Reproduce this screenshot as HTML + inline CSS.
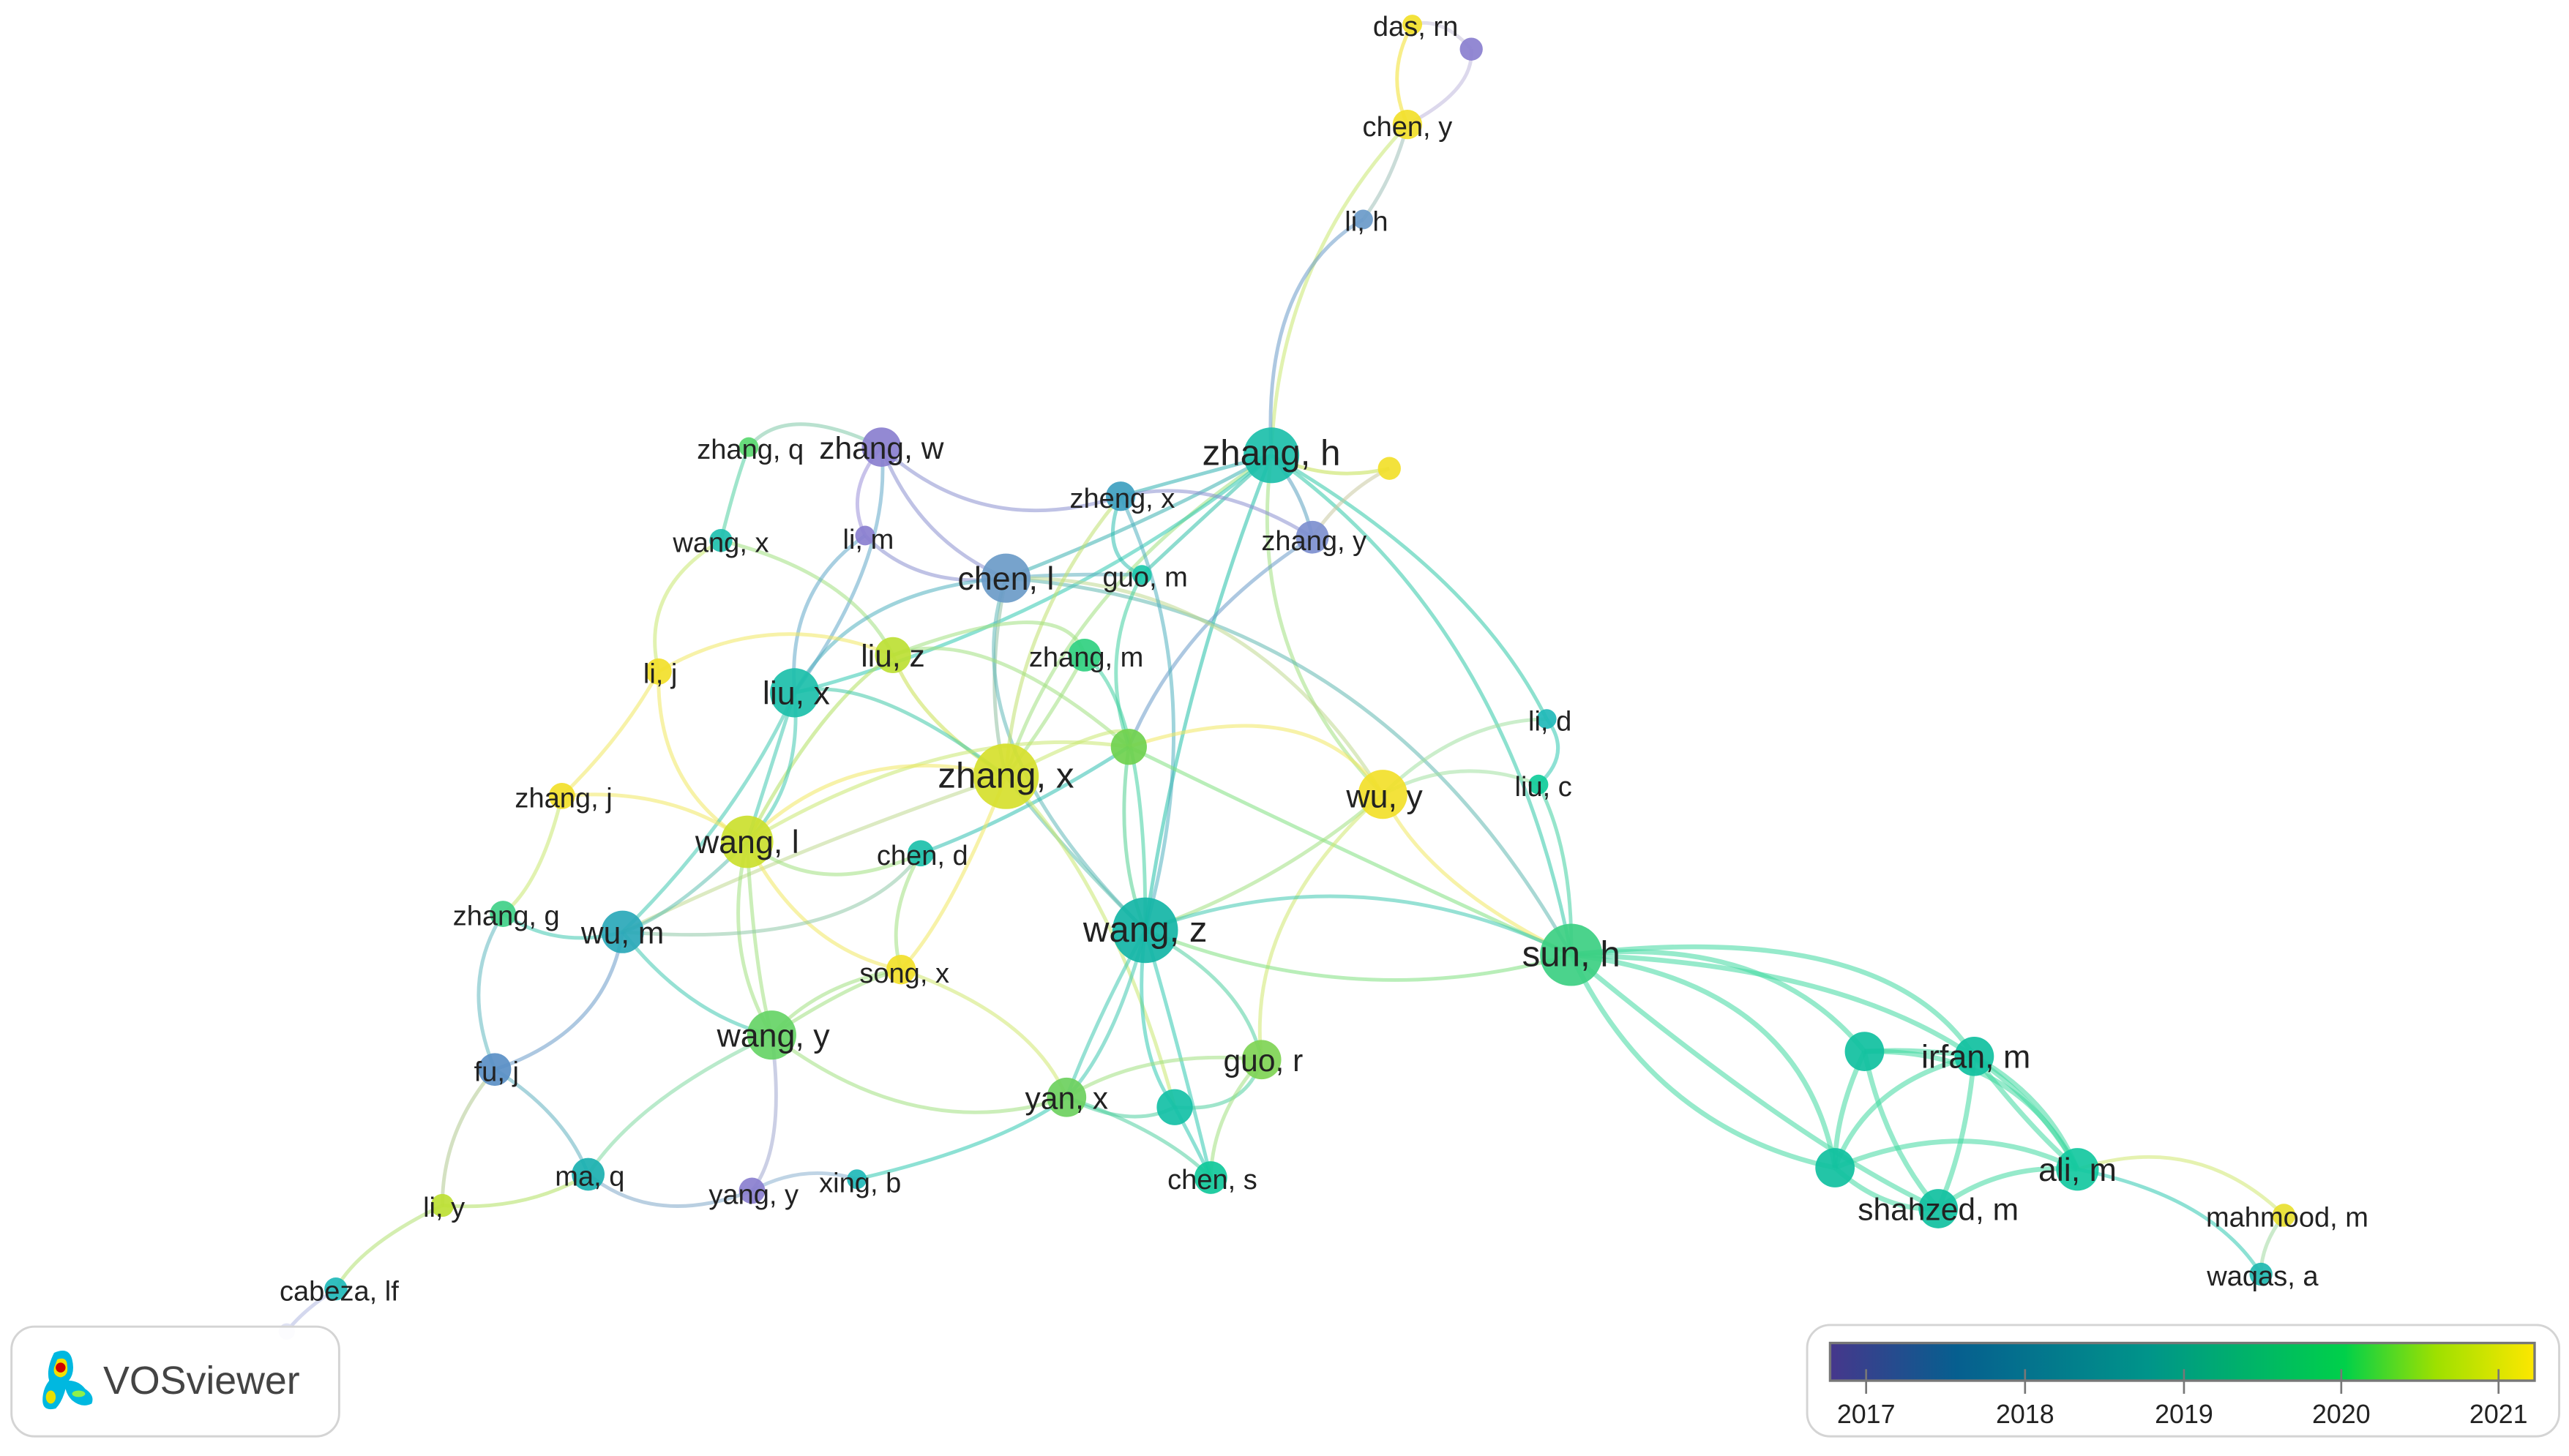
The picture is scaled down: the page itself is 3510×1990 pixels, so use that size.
<!DOCTYPE html>
<html><head><meta charset="utf-8"><style>
html,body{margin:0;padding:0;background:#fff;}
svg{display:block;}
text{font-family:"Liberation Sans",sans-serif;fill:#222;}
</style></head><body>
<svg width="3510" height="1990" viewBox="0 0 1568 889" preserveAspectRatio="none" xmlns="http://www.w3.org/2000/svg">
<defs>
<linearGradient id="bar" x1="0" x2="1" y1="0" y2="0">
<stop offset="0" stop-color="#46378c"/><stop offset="0.18" stop-color="#065f8f"/><stop offset="0.45" stop-color="#00948a"/><stop offset="0.73" stop-color="#00d04a"/><stop offset="0.86" stop-color="#9ee000"/><stop offset="1" stop-color="#fde700"/>
</linearGradient>
</defs>
<g fill="none" stroke-width="2.2" stroke-opacity="0.55">
<!-- top -->
<path d="M862 15 Q880 10 898 30" stroke="#c9c2d8"/>
<path d="M862 15 Q845 45 859 76" stroke="#f2e02a"/>
<path d="M859 76 Q900 55 898 30" stroke="#c0b8dc"/>
<path d="M859 76 Q850 110 832 134" stroke="#9fc0b8"/>
<path d="M859 76 Q780 160 776 278" stroke="#c8e870"/>
<path d="M832 134 Q770 170 776 278" stroke="#6a9ac9"/>
<!-- zhang h -->
<path d="M776 278 Q810 295 848 286" stroke="#c2e050"/>
<path d="M776 278 Q730 290 684 303" stroke="#30b0b0"/>
<path d="M776 278 Q795 300 801 328" stroke="#5aa0c0"/>
<path d="M776 278 Q700 320 614 353" stroke="#3ab0b0"/>
<path d="M776 278 Q730 320 697 351" stroke="#30c0a8"/>
<path d="M776 278 Q720 420 699 568" stroke="#20c0a8"/>
<path d="M776 278 Q650 360 614 474" stroke="#a0e080"/>
<path d="M776 278 Q760 400 844 485" stroke="#a0e080"/>
<path d="M776 278 Q900 350 944 439" stroke="#30c8a8"/>
<path d="M776 278 Q920 380 959 583" stroke="#30c8a8"/>
<path d="M776 278 Q650 380 485 423" stroke="#30c8b0"/>
<path d="M801 328 Q820 300 848 286" stroke="#c8c8a0"/>
<path d="M801 328 Q720 380 689 456" stroke="#6a9ac9"/>
<!-- zhang w -->
<path d="M538 273 Q600 330 684 303 Q740 290 801 328" stroke="#8a90d0"/>
<path d="M538 273 Q515 300 528 327" stroke="#9a8fd8"/>
<path d="M538 273 Q560 330 614 353" stroke="#8a8fd0"/>
<path d="M538 273 Q545 340 485 423" stroke="#60a8c8"/>
<path d="M538 273 Q480 245 457 273" stroke="#80c8a8"/>
<path d="M457 273 Q450 290 440 330" stroke="#50d0a0"/>
<path d="M440 330 Q390 360 402 410" stroke="#c8e870"/>
<path d="M440 330 Q520 350 545 400" stroke="#a0e080"/>
<path d="M528 327 Q480 360 485 423" stroke="#60a8c8"/>
<path d="M528 327 Q560 360 614 353" stroke="#8a8fd0"/>
<!-- chen l -->
<path d="M614 353 Q650 350 697 351" stroke="#60b0c0"/>
<path d="M614 353 Q840 370 959 583" stroke="#60b8b0"/>
<path d="M614 353 Q760 350 844 485" stroke="#c0d890"/>
<path d="M614 353 Q600 420 614 474" stroke="#90c0a0"/>
<path d="M614 353 Q580 450 699 568" stroke="#60b8b8"/>
<path d="M614 353 Q520 360 485 423" stroke="#50b0c0"/>
<path d="M684 303 Q670 340 697 351" stroke="#30c0b0"/>
<path d="M684 303 Q740 420 699 568" stroke="#50b0c0"/>
<path d="M684 303 Q620 380 614 474" stroke="#c0e070"/>
<path d="M697 351 Q670 400 689 456" stroke="#40d0a0"/>
<!-- mid -->
<path d="M402 410 Q470 370 545 400" stroke="#f0e860"/>
<path d="M402 410 Q380 450 343 486" stroke="#f0e860"/>
<path d="M402 410 Q400 480 456 514" stroke="#f0e860"/>
<path d="M545 400 Q560 440 614 474" stroke="#c8e050"/>
<path d="M545 400 Q600 380 689 456" stroke="#a0e080"/>
<path d="M545 400 Q500 430 456 514" stroke="#b0e060"/>
<path d="M545 400 Q650 360 662 400" stroke="#a0e080"/>
<path d="M662 400 Q640 440 614 474" stroke="#a0e080"/>
<path d="M662 400 Q700 430 699 568" stroke="#40d0a0"/>
<path d="M485 423 Q530 410 614 474" stroke="#40c8a8"/>
<path d="M485 423 Q470 470 456 514" stroke="#40c8b0"/>
<path d="M485 423 Q450 500 380 569" stroke="#40c8b0"/>
<path d="M485 423 Q490 480 456 514" stroke="#40c8b0"/>
<path d="M689 456 Q580 440 456 514" stroke="#c8e870"/>
<path d="M689 456 Q620 500 562 521" stroke="#30c0b0"/>
<path d="M689 456 Q680 520 699 568" stroke="#50d090"/>
<path d="M689 456 Q800 420 844 485" stroke="#f0e860"/>
<path d="M689 456 Q820 520 959 583" stroke="#80e080"/>
<path d="M614 474 Q520 450 456 514" stroke="#f0e860"/>
<path d="M614 474 Q650 520 699 568" stroke="#60c0b0"/>
<path d="M614 474 Q680 540 717 676" stroke="#c8e870"/>
<path d="M614 474 Q580 560 550 592" stroke="#f0e860"/>
<path d="M614 474 Q700 430 689 456" stroke="#c8e870"/>
<path d="M614 474 Q480 520 380 569" stroke="#c0d890"/>
<path d="M343 486 Q410 480 456 514" stroke="#f0e860"/>
<path d="M343 486 Q330 540 307 558" stroke="#c8e870"/>
<path d="M456 514 Q500 550 562 521" stroke="#a0e080"/>
<path d="M456 514 Q490 580 550 592" stroke="#f0e860"/>
<path d="M456 514 Q440 580 471 632" stroke="#a0e080"/>
<path d="M456 514 Q460 590 471 632" stroke="#a0e080"/>
<path d="M456 514 Q410 560 380 569" stroke="#60c0b0"/>
<path d="M562 521 Q520 580 380 569" stroke="#90c8a8"/>
<path d="M562 521 Q540 560 550 592" stroke="#a0e080"/>
<path d="M844 485 Q890 440 944 439" stroke="#a0e0a0"/>
<path d="M844 485 Q890 460 939 479" stroke="#a0e0a0"/>
<path d="M844 485 Q870 540 959 583" stroke="#f0e860"/>
<path d="M844 485 Q780 540 699 568" stroke="#a0e080"/>
<path d="M844 485 Q760 560 770 647" stroke="#d0e870"/>
<path d="M944 439 Q960 460 939 479" stroke="#30c8b0"/>
<path d="M939 479 Q960 520 959 583" stroke="#40d0a0"/>
<path d="M699 568 Q830 520 959 583" stroke="#40c8b0"/>
<path d="M699 568 Q830 620 959 583" stroke="#80e080"/>
<path d="M699 568 Q670 620 651 670" stroke="#40c8b0"/>
<path d="M699 568 Q680 640 651 670" stroke="#40c8b0"/>
<path d="M699 568 Q690 640 717 676" stroke="#30c8b0"/>
<path d="M699 568 Q760 600 770 647" stroke="#50d0a0"/>
<path d="M699 568 Q720 640 739 719" stroke="#30c8b0"/>
<path d="M307 558 Q340 580 380 569" stroke="#40c8b0"/>
<path d="M307 558 Q280 600 302 653" stroke="#60b8c0"/>
<path d="M380 569 Q420 620 471 632" stroke="#40c8b0"/>
<path d="M380 569 Q370 630 302 653" stroke="#6a9ac9"/>
<path d="M550 592 Q500 600 471 632" stroke="#a0e080"/>
<path d="M550 592 Q520 600 471 632" stroke="#a0e080"/>
<path d="M550 592 Q630 620 651 670" stroke="#d0e870"/>
<path d="M471 632 Q560 700 651 670" stroke="#a0e080"/>
<path d="M471 632 Q390 670 359 717" stroke="#80d8a0"/>
<path d="M471 632 Q480 700 459 727" stroke="#a0a8d0"/>
<path d="M302 653 Q270 690 270 736" stroke="#b0c890"/>
<path d="M302 653 Q345 680 359 717" stroke="#60b0c0"/>
<path d="M359 717 Q320 740 270 736" stroke="#b0e060"/>
<path d="M359 717 Q400 750 459 727" stroke="#80a8c8"/>
<path d="M459 727 Q490 710 523 720" stroke="#8ab0d0"/>
<path d="M523 720 Q610 700 651 670" stroke="#30c8b0"/>
<path d="M651 670 Q700 640 770 647" stroke="#a0e080"/>
<path d="M651 670 Q690 690 717 676" stroke="#50d0a0"/>
<path d="M651 670 Q710 690 739 719" stroke="#50d0a0"/>
<path d="M717 676 Q760 680 770 647" stroke="#50d0a0"/>
<path d="M717 676 Q730 700 739 719" stroke="#30c8b0"/>
<path d="M770 647 Q740 680 739 719" stroke="#a0e080"/>
<path d="M270 736 Q220 760 205 787" stroke="#b0e070"/>
<path d="M205 787 Q185 800 175 813" stroke="#b0b8e0"/>
<!-- right cluster -->
<g stroke-width="3" stroke="#40d8a0">
<path d="M959 583 Q1080 570 1138 642"/>
<path d="M959 583 Q1150 560 1205 645"/>
<path d="M959 583 Q1200 590 1268 714"/>
<path d="M959 583 Q1100 600 1120 713"/>
<path d="M959 583 Q1100 700 1183 738"/>
<path d="M959 583 Q1010 690 1120 713"/>
<path d="M1138 642 Q1170 640 1205 645"/>
<path d="M1138 642 Q1120 680 1120 713"/>
<path d="M1138 642 Q1150 700 1183 738"/>
<path d="M1138 642 Q1230 640 1268 714"/>
<path d="M1205 645 Q1140 660 1120 713"/>
<path d="M1205 645 Q1200 700 1183 738"/>
<path d="M1205 645 Q1240 690 1268 714"/>
<path d="M1205 645 Q1250 670 1268 714"/>
<path d="M1120 713 Q1150 740 1183 738"/>
<path d="M1120 713 Q1200 680 1268 714"/>
<path d="M1183 738 Q1220 710 1268 714"/>
</g>
<path d="M1268 714 Q1340 690 1394 742" stroke="#d0e870"/>
<path d="M1268 714 Q1350 730 1380 778" stroke="#30c8b0"/>
<path d="M1394 742 Q1380 760 1380 778" stroke="#a0d8a0"/>
</g>
<!-- nodes -->
<g fill-opacity="0.92">
<circle cx="862" cy="15" r="6" fill="#f2e02a"/>
<circle cx="898" cy="30" r="7" fill="#8a7fcf"/>
<circle cx="859" cy="76" r="9" fill="#f2e02a"/>
<circle cx="832" cy="134" r="6" fill="#6a9ac9"/>
<circle cx="776" cy="278" r="17" fill="#1cbfaa"/>
<circle cx="848" cy="286" r="7" fill="#f2e02a"/>
<circle cx="684" cy="303" r="9" fill="#3ea0c0"/>
<circle cx="801" cy="328" r="10" fill="#7d8fcf"/>
<circle cx="697" cy="351" r="6" fill="#1cc8aa"/>
<circle cx="614" cy="353" r="15" fill="#6b9bc8"/>
<circle cx="538" cy="273" r="12" fill="#8a7fcf"/>
<circle cx="457" cy="273" r="6" fill="#5ad870"/>
<circle cx="440" cy="330" r="7" fill="#20c0b0"/>
<circle cx="528" cy="327" r="6" fill="#8a7fcf"/>
<circle cx="545" cy="400" r="11" fill="#bde034"/>
<circle cx="662" cy="400" r="10" fill="#30d080"/>
<circle cx="402" cy="410" r="8" fill="#f2e02a"/>
<circle cx="485" cy="423" r="15" fill="#1cbfaa"/>
<circle cx="689" cy="456" r="11" fill="#6fd14e"/>
<circle cx="614" cy="474" r="20" fill="#d6df2c"/>
<circle cx="844" cy="485" r="15" fill="#f2e02a"/>
<circle cx="944" cy="439" r="6" fill="#20b8b8"/>
<circle cx="939" cy="479" r="6" fill="#10cc9a"/>
<circle cx="343" cy="486" r="8" fill="#f2e02a"/>
<circle cx="456" cy="514" r="16" fill="#cbe02e"/>
<circle cx="562" cy="521" r="8" fill="#1cc0aa"/>
<circle cx="307" cy="558" r="8" fill="#40d088"/>
<circle cx="380" cy="569" r="13" fill="#2aa8b8"/>
<circle cx="550" cy="592" r="9" fill="#f2e02a"/>
<circle cx="699" cy="568" r="20" fill="#14b5a6"/>
<circle cx="959" cy="583" r="19" fill="#3ccf82"/>
<circle cx="471" cy="632" r="15" fill="#66d466"/>
<circle cx="770" cy="647" r="12" fill="#7fd455"/>
<circle cx="302" cy="653" r="10" fill="#5a8fc5"/>
<circle cx="651" cy="670" r="12" fill="#6dd05e"/>
<circle cx="717" cy="676" r="11" fill="#14c0a6"/>
<circle cx="359" cy="717" r="10" fill="#1ab0b0"/>
<circle cx="459" cy="727" r="8" fill="#8a7fcf"/>
<circle cx="523" cy="720" r="6" fill="#20b8b8"/>
<circle cx="739" cy="719" r="10" fill="#10c89a"/>
<circle cx="270" cy="736" r="7" fill="#bde034"/>
<circle cx="205" cy="787" r="7" fill="#20b8b8"/>
<circle cx="175" cy="813" r="5" fill="#dcdff2"/>
<circle cx="1138" cy="642" r="12" fill="#10c0a0"/>
<circle cx="1205" cy="645" r="12" fill="#10c0a0"/>
<circle cx="1120" cy="713" r="12" fill="#10c0a0"/>
<circle cx="1183" cy="738" r="12" fill="#10c0a0"/>
<circle cx="1268" cy="714" r="13" fill="#14c8a0"/>
<circle cx="1394" cy="742" r="7" fill="#e8e030"/>
<circle cx="1380" cy="778" r="7" fill="#20b8b0"/>
</g>
<!-- labels -->
<g font-size="17" text-anchor="middle">
<text x="864" y="22">das, rn</text>
<text x="859" y="83">chen, y</text>
<text x="834" y="141">li, h</text>
<text x="776" y="284" font-size="22">zhang, h</text>
<text x="685" y="310">zheng, x</text>
<text x="802" y="336">zhang, y</text>
<text x="699" y="358">guo, m</text>
<text x="614" y="360" font-size="20">chen, l</text>
<text x="538" y="280" font-size="19">zhang, w</text>
<text x="458" y="280">zhang, q</text>
<text x="440" y="337">wang, x</text>
<text x="530" y="335">li, m</text>
<text x="545" y="407" font-size="19">liu, z</text>
<text x="663" y="407">zhang, m</text>
<text x="403" y="417">li, j</text>
<text x="486" y="430" font-size="20">liu, x</text>
<text x="614" y="481" font-size="22">zhang, x</text>
<text x="845" y="493" font-size="20">wu, y</text>
<text x="946" y="446">li, d</text>
<text x="942" y="486">liu, c</text>
<text x="344" y="493">zhang, j</text>
<text x="456" y="521" font-size="20">wang, l</text>
<text x="563" y="528">chen, d</text>
<text x="309" y="565">zhang, g</text>
<text x="380" y="576" font-size="19">wu, m</text>
<text x="552" y="600">song, x</text>
<text x="699" y="575" font-size="22">wang, z</text>
<text x="959" y="590" font-size="22">sun, h</text>
<text x="472" y="639" font-size="20">wang, y</text>
<text x="771" y="654" font-size="19">guo, r</text>
<text x="303" y="660">fu, j</text>
<text x="651" y="677" font-size="19">yan, x</text>
<text x="360" y="724">ma, q</text>
<text x="460" y="735">yang, y</text>
<text x="525" y="728">xing, b</text>
<text x="740" y="726">chen, s</text>
<text x="271" y="743">li, y</text>
<text x="207" y="794">cabeza, lf</text>
<text x="1206" y="652" font-size="20">irfan, m</text>
<text x="1183" y="745" font-size="19">shahzed, m</text>
<text x="1268" y="721" font-size="20">ali, m</text>
<text x="1396" y="749">mahmood, m</text>
<text x="1381" y="785">waqas, a</text>
</g>
<!-- logo -->
<rect x="7" y="810" width="200" height="67" rx="14" fill="#fff" fill-opacity="0.9" stroke="#d4d4d4" stroke-width="1.3"/>
<g>
<path d="M33 826 Q42 822 44 830 Q46 838 42 843 Q48 843 52 848 Q58 852 56 857 Q50 860 44 855 Q41 852 40 848 Q38 856 34 860 Q26 862 26 855 Q26 848 30 843 Q28 836 33 826Z" fill="#00b8e0"/>
<path d="M35 830 Q41 828 41 834 Q42 840 37 841 Q32 840 33 835Z" fill="#f2e000"/>
<circle cx="37" cy="835" r="3" fill="#d00000"/>
<ellipse cx="31" cy="853" rx="3" ry="4" fill="#e8e000"/>
<ellipse cx="48" cy="851" rx="4" ry="2" fill="#8ef04a"/>
</g>
<text x="63" y="851" font-size="24" fill="#444" style="fill:#444">VOSviewer</text>
<!-- legend -->
<rect x="1103" y="809" width="459" height="68" rx="14" fill="#fff" fill-opacity="0.9" stroke="#d4d4d4" stroke-width="1.3"/>
<rect x="1117" y="820" width="430" height="23" fill="url(#bar)" stroke="#777" stroke-width="1.5"/>
<g stroke="#777" stroke-width="1.2">
<line x1="1139" y1="836" x2="1139" y2="851"/>
<line x1="1236" y1="836" x2="1236" y2="851"/>
<line x1="1333" y1="836" x2="1333" y2="851"/>
<line x1="1429" y1="836" x2="1429" y2="851"/>
<line x1="1525" y1="836" x2="1525" y2="851"/>
</g>
<g font-size="16" text-anchor="middle">
<text x="1139" y="869">2017</text>
<text x="1236" y="869">2018</text>
<text x="1333" y="869">2019</text>
<text x="1429" y="869">2020</text>
<text x="1525" y="869">2021</text>
</g>
</svg>
</body></html>
